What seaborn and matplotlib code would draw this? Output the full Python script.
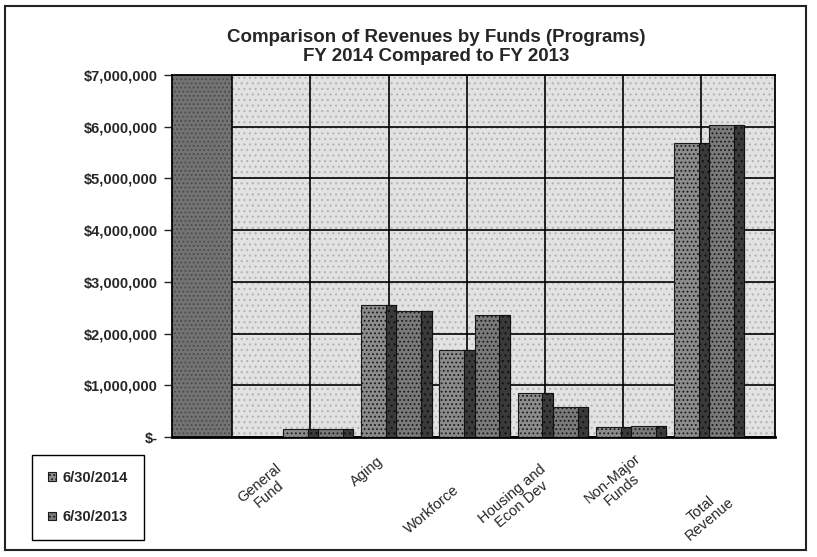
import numpy as np
import pandas as pd
import matplotlib
matplotlib.use("Agg")
import matplotlib.pyplot as plt
import matplotlib.transforms as mtransforms
from matplotlib.patches import Rectangle
from matplotlib.ticker import FuncFormatter
import seaborn as sns

# values
funds = ["General Fund", "Aging", "Workforce", "Housing and Econ Dev",
         "Non-Major Funds", "Total Revenue"]
tick_labels = ["General\nFund", "Aging", "Workforce", "Housing and\nEcon Dev",
               "Non-Major\nFunds", "Total\nRevenue"]
years = ["6/30/2014", "6/30/2013"]
rev_2014 = [150000, 2550000, 1680000, 850000, 190000, 5680000]
rev_2013 = [160000, 2440000, 2360000, 580000, 220000, 6030000]

df = pd.DataFrame({
    "Fund": funds * 2,
    "Revenue": rev_2014 + rev_2013,
    "Year": [years[0]] * len(funds) + [years[1]] * len(funds),
})

sns.set_style("white")
plt.rcParams["font.family"] = ["Liberation Sans", "DejaVu Sans"]
plt.rcParams["hatch.linewidth"] = 0.8

W, H = 817, 557
fig = plt.figure(figsize=(W / 100, H / 100), dpi=100)
ax = fig.add_axes([172 / W, 1 - 437 / H, (775 - 172) / W, (437 - 75) / H])

sns.barplot(data=df, x="Fund", y="Revenue", hue="Year", order=funds,
            hue_order=years, palette=["#8c8c8c", "#7a7a7a"], width=0.9,
            errorbar=None, edgecolor="#1a1a1a", linewidth=0.8, ax=ax, zorder=3)

# speckle + darker side face on every column (pseudo 3-D look)
for bar in list(ax.patches):
    x, w, h = bar.get_x(), bar.get_width(), bar.get_height()
    bar.set_hatch("....")
    if h <= 0:
        continue
    ax.add_patch(Rectangle((x + 0.7 * w, 0), 0.3 * w, h, facecolor="#3a3a3a",
                           edgecolor="#111111", hatch="...", linewidth=0.8,
                           zorder=4))

n = len(funds)
ax.set_xlim(-1.87, 5.84)
ax.set_ylim(0, 7000000)

# side wall and back wall
ax.set_facecolor("white")
ax.add_patch(Rectangle((-1.1, 0), 5.84 + 1.1, 7000000, facecolor="#e2e2e2",
                       edgecolor="#b4b4b4", hatch="...", linewidth=0, zorder=0.2))
ax.add_patch(Rectangle((-1.87, 0), 0.77, 7000000, facecolor="#737373",
                       edgecolor="#4a4a4a", hatch="....", linewidth=0, zorder=1))
for xv in np.arange(-1, n) - 0.1:
    ax.axvline(xv, color="black", lw=1.2, zorder=2)

ax.set_yticks(np.arange(0, 7000001, 1000000))
ax.yaxis.set_major_formatter(FuncFormatter(lambda v, _: "$-" if v == 0 else f"${v:,.0f}"))
ax.set_axisbelow(True)
ax.yaxis.grid(True, color="black", lw=1.2)
ax.xaxis.grid(False)
ax.tick_params(axis="y", left=True, length=6, width=1, direction="out",
               pad=4, labelsize=10.5)
for lbl in ax.get_yticklabels():
    lbl.set_fontweight("bold")
ax.set_xticks([])
ax.set_xlabel("")
ax.set_ylabel("")
for sp in ax.spines.values():
    sp.set_visible(True)
    sp.set_color("black")
    sp.set_linewidth(1.3)
ax.spines["bottom"].set_linewidth(2.0)

# category labels, shifted like the perspective labels of the original
offsets = [(-54, -52), (-30, -35), (-43, -73), (-36, -62), (-14, -47), (-4, -77)]
for i, (lab, (dx, dy)) in enumerate(zip(tick_labels, offsets)):
    tr = ax.get_xaxis_transform() + mtransforms.ScaledTranslation(dx / 100, dy / 100, fig.dpi_scale_trans)
    ax.text(i, 0, lab, transform=tr, rotation=40, ha="center", va="center",
            rotation_mode="anchor", fontsize=10.5, linespacing=1.0)

handles, labels = ax.get_legend_handles_labels()
for hd in handles:
    hd.set_hatch("....")
leg = ax.legend(handles, labels, loc="center", bbox_to_anchor=(88 / W, 1 - 497.5 / H),
                bbox_transform=fig.transFigure, frameon=True, fancybox=False,
                edgecolor="black", framealpha=1, borderpad=1.1, labelspacing=1.75,
                handlelength=0.55, handleheight=0.55, handletextpad=0.4,
                prop={"weight": "bold", "size": 10.5})
leg.get_frame().set_linewidth(1.0)

fig.text(436 / W, 1 - 47 / H,
         "Comparison of Revenues by Funds (Programs)\nFY 2014 Compared to FY 2013",
         ha="center", va="center", fontsize=13.5, fontweight="bold",
         linespacing=1.15)

fig.add_artist(Rectangle((5 / W, 1 - 550 / H), (806 - 5) / W, (550 - 6) / H,
                         transform=fig.transFigure, fill=False, lw=1.5,
                         edgecolor="#222222"))

fig.savefig("out.png", dpi=100)
